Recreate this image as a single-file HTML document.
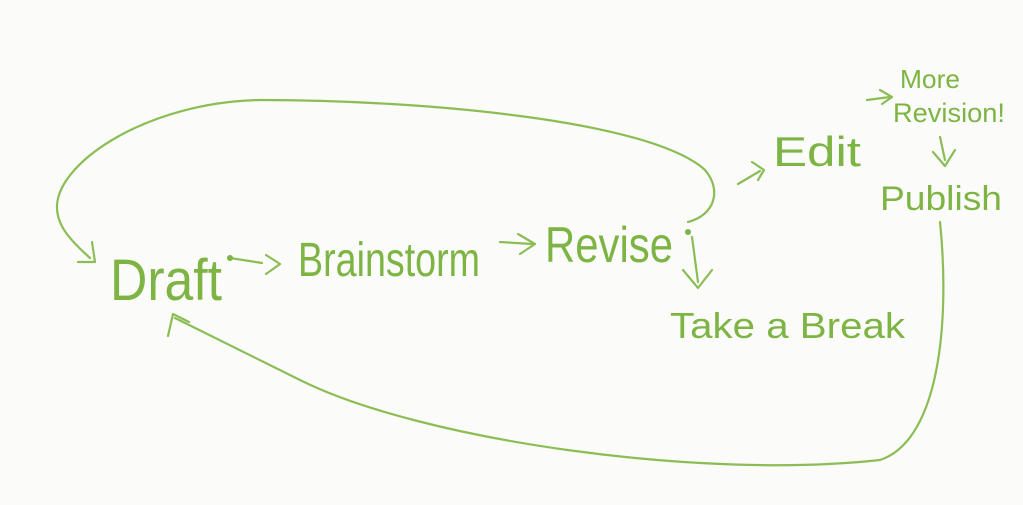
<!DOCTYPE html>
<html><head><meta charset="utf-8"><style>
html,body{margin:0;padding:0;background:#fbfbfa;}
svg{display:block}
text{font-family:"Liberation Sans",sans-serif;fill:#7db443;}
</style></head><body>
<svg width="1023" height="505" viewBox="0 0 1023 505" xmlns="http://www.w3.org/2000/svg">
<rect width="1023" height="505" fill="#fbfbfa"/>
<g fill="none" stroke="#8bbd55" stroke-width="2.2" stroke-linecap="round" stroke-linejoin="round">
<path d="M688 222 C715 215 722 190 705 170 C650 120 420 100 260 100 C150 102 60 160 57 205 C56 225 70 240 90 258"/>
<path d="M78 262 L95 262 L92 242"/>
<path d="M940 222 C950 320 940 440 880 460 C700 480 420 440 300 380 C240 350 200 330 175 318"/>
<path d="M168 336 L173 314 L189 322"/>
<path d="M230 258 L262 263"/>
<path d="M266 255 L280 264 L266 274"/>
<path d="M500 242 L532 244"/>
<path d="M518 234 L535 244 L520 254"/>
<path d="M692 237 L698 282"/>
<path d="M683 270 L698 288 L712 270"/>
<path d="M738 184 L760 171"/>
<path d="M752 162 L764 170 L758 180"/>
<path d="M867 100 L890 97"/>
<path d="M880 90 L892 97 L882 104"/>
<path d="M940 137 L945 160"/>
<path d="M933 152 L945 166 L955 150"/>
</g>
<circle cx="230" cy="258" r="3" fill="#7db443"/>
<circle cx="688" cy="232" r="3" fill="#7db443"/>
<text x="110" y="300" font-size="58" textLength="112" lengthAdjust="spacingAndGlyphs">Draft</text>
<text x="298" y="276" font-size="48" textLength="182" lengthAdjust="spacingAndGlyphs">Brainstorm</text>
<text x="545" y="262" font-size="50" textLength="128" lengthAdjust="spacingAndGlyphs">Revise</text>
<text x="670" y="338" font-size="36" textLength="235" lengthAdjust="spacingAndGlyphs">Take a Break</text>
<text x="773" y="166" font-size="42" textLength="88" lengthAdjust="spacingAndGlyphs">Edit</text>
<text x="900" y="88" font-size="26" textLength="60" lengthAdjust="spacingAndGlyphs">More</text>
<text x="893" y="122" font-size="27" textLength="112" lengthAdjust="spacingAndGlyphs">Revision!</text>
<text x="880" y="210" font-size="34" textLength="122" lengthAdjust="spacingAndGlyphs">Publish</text>
</svg>
</body></html>
